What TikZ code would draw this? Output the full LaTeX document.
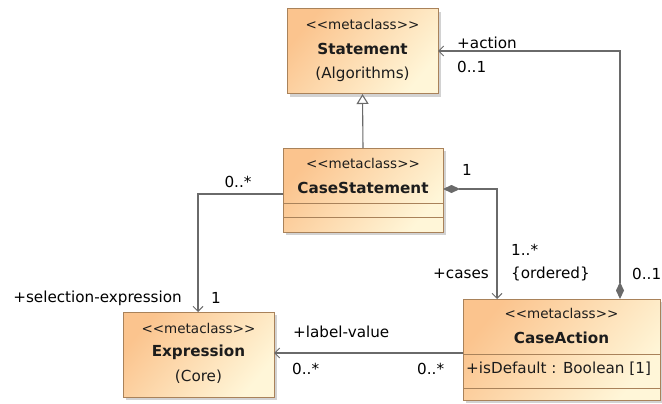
\documentclass[tikz,border=0pt]{standalone}
\usepackage{fontspec}
\setmainfont{DejaVu Sans}
\usetikzlibrary{arrows.meta,shadows}
\definecolor{MetaFillA}{HTML}{FBC48E}
\definecolor{MetaFillB}{HTML}{FFF6D8}
\definecolor{MetaEdge}{HTML}{A9825A}
\definecolor{MetaLine}{HTML}{6A6A6A}
\definecolor{MetaText}{HTML}{1C1C1C}
\newcommand{\metastereo}{<{}<metaclass>{}>}
\tikzset{
  metabox/.style={draw=MetaEdge, line width=1pt, inner sep=0pt, outer sep=0pt,
                  top color=MetaFillA, bottom color=MetaFillB, shading angle=50,
                  drop shadow={shadow xshift=3pt, shadow yshift=-3pt,
                               fill=black!35, opacity=0.5}},
  compart/.style={draw=MetaEdge, line width=1pt},
  stereo/.style={font=\fontsize{13.5}{16}\selectfont\color{MetaText}, inner sep=0pt},
  clsname/.style={font=\fontsize{15.2}{18}\selectfont\bfseries\color{MetaText}, inner sep=0pt},
  pkgname/.style={font=\fontsize{15.2}{18}\selectfont\color{MetaText}, inner sep=0pt},
  role/.style={font=\fontsize{15.2}{18}\selectfont\color{black}, inner sep=0pt},
  assoc/.style={draw=MetaLine, line width=1.1pt,
                -{Straight Barb[length=5pt,width=10pt,line width=1pt]}},
  compo/.style={draw=MetaLine, line width=1.1pt,
                {Diamond[length=17pt,width=8pt,fill=MetaLine]}-{Straight Barb[length=5pt,width=10pt,line width=1pt]}},
  generalize/.style={draw=MetaLine, line width=1.1pt,
                     -{Triangle[open,length=10pt,width=12pt,fill=white]}},
}

\begin{document}
\begin{tikzpicture}[x=1pt,y=-1pt]
  \useasboundingbox (0,0) rectangle (662,404);

  % metaclasses
  \node[metabox, minimum width=151pt, minimum height=85pt] (stmt) at (362.5,51.5) {};
  \node[stereo]  (stmtst)  at (362.5,24) {\metastereo};
  \node[clsname] (stmtnm)  at (362.5,49) {Statement};
  \node[pkgname] (stmtpk)  at (362.5,74) {(Algorithms)};

  \node[metabox, minimum width=160pt, minimum height=84pt] (casestmt) at (363,190) {};
  \node[stereo]  (casestmtst) at (363,163) {\metastereo};
  \node[clsname] (casestmtnm) at (363,188) {CaseStatement};
  \draw[compart] (casestmt.west |- 0,203) -- (casestmt.east |- 0,203);
  \draw[compart] (casestmt.west |- 0,217) -- (casestmt.east |- 0,217);

  \node[metabox, minimum width=151pt, minimum height=85pt] (expr) at (198.5,354.5) {};
  \node[stereo]  (exprst) at (198.5,328) {\metastereo};
  \node[clsname] (exprnm) at (198.5,352) {Expression};
  \node[pkgname] (exprpk) at (198.5,377) {(Core)};

  \node[metabox, minimum width=197pt, minimum height=101pt] (caseact) at (561.5,349.5) {};
  \node[stereo]  (caseactst) at (561.5,313) {\metastereo};
  \node[clsname] (caseactnm) at (561.5,338) {CaseAction};
  \draw[compart] (caseact.west |- 0,354) -- (caseact.east |- 0,354);
  \node[pkgname, anchor=west] (caseactat) at (466,369) {+isDefault : Boolean [1]};
  \draw[compart] (caseact.west |- 0,388) -- (caseact.east |- 0,388);

  % relations
  \draw[generalize] (casestmt.north) -- (stmt.south);

  \coordinate (actionelbow) at (620,51);
  \draw[compo] (caseact.north -| actionelbow) -- (actionelbow) -- (stmt.east |- actionelbow);

  \coordinate (caseselbow) at (497,189);
  \draw[compo] (casestmt.east |- caseselbow) -- (caseselbow) -- (caseselbow |- caseact.north);

  \coordinate (selelbow) at (198,194);
  \draw[assoc] (casestmt.west |- selelbow) -- (selelbow) -- (selelbow |- expr.north);

  \coordinate (labelrow) at (400,353);
  \draw[assoc] (caseact.west |- labelrow) -- (expr.east |- labelrow);

  % role names and multiplicities
  \node[role, anchor=west] (actionrole) at (457,43) {+action};
  \node[role, anchor=west] (actionmul)  at (457,67) {0..1};
  \node[role, anchor=west] (actionsrc)  at (632,274) {0..1};
  \node[role] (casessrc)   at (467,170) {1};
  \node[role, anchor=west] (casesmul)   at (511,250) {1..*};
  \node[role, anchor=west] (casesord)   at (511,274) {\{ordered\}};
  \node[role, anchor=east] (casesrole)  at (489,274) {+cases};
  \node[role] (selsrc)     at (238,182) {0..*};
  \node[role, anchor=east] (selrole)    at (182,298) {+selection-expression};
  \node[role] (selmul)     at (216,298) {1};
  \node[role, anchor=west] (labelrole)  at (293,332) {+label-value};
  \node[role, anchor=west] (labelmul)   at (292,369) {0..*};
  \node[role, anchor=west] (labelsrc)   at (417,369) {0..*};
\end{tikzpicture}
\end{document}
